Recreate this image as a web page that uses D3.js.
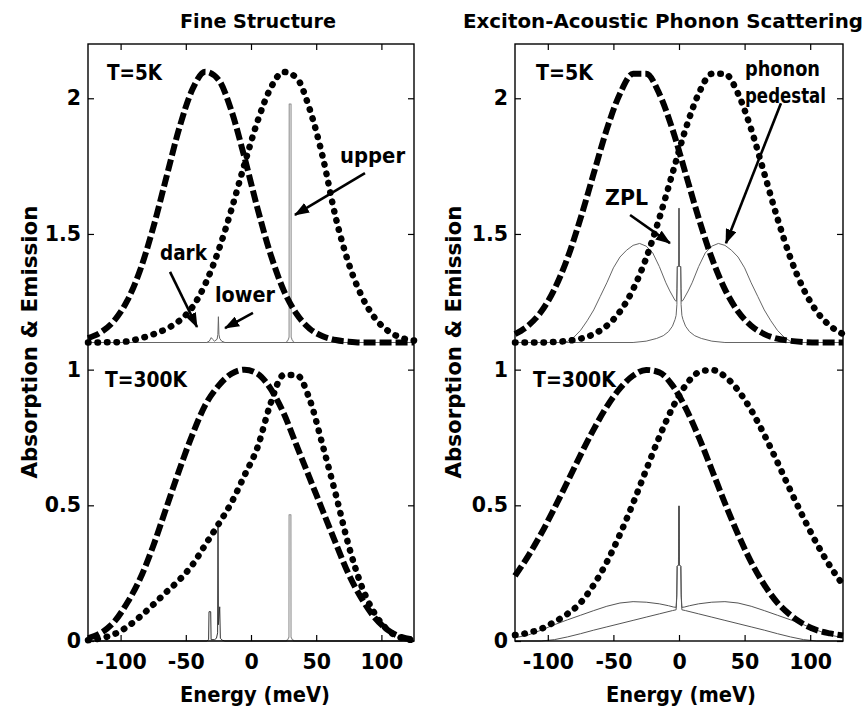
<!DOCTYPE html>
<html><head><meta charset="utf-8">
<script src="https://cdn.jsdelivr.net/npm/d3@7"></script>
<style>
body{margin:0;background:#fff}
svg text{font-family:"DejaVu Sans","Liberation Sans",Arial,sans-serif;font-weight:bold;fill:#000}
</style>
</head><body>
<svg id="chart" width="866" height="708"></svg>
<script>
// ---------- data ----------
const energy = [-125,-115,-105,-95,-85,-75,-65,-55,-45,-35,-25,-15,-5,5,15,25,35,45,55,65,75,85,95,105,115,125];
const xTicks = [-100,-50,0,50,100];
const xTickLabels = ["-100","-50","0","50","100"];
const yTicks = [0,0.5,1,1.5,2];
const yTickLabels = ["0","0.5","1","1.5","2"];
const lowTempOffset = 1.1;   // T=5K spectra are shifted up by this amount

// Fine structure, T=5K (normalised, shown at +1.1)
const fs5Dashed = [0.016,0.038,0.080,0.153,0.267,0.423,0.607,0.790,0.932,0.998,0.969,0.854,0.682,0.494,0.325,0.193,0.105,0.051,0.023,0.009,0.003,0,0,0,0,0];
const fs5Dotted = [0,0.0004,0.001,0.004,0.015,0.03,0.05,0.08,0.13,0.216,0.338,0.49,0.657,0.815,0.937,0.997,0.975,0.86,0.684,0.46,0.29,0.17,0.09,0.043,0.018,0.0075];
const fs5EmisX = [-125,-34,-32,-30.5,-29.5,-28,-26,-25.4,-25,-24.6,-24,-22.5,-20,125];
const fs5EmisY = [0,0,0.005,0.018,0.012,0.005,0.012,0.03,0.095,0.03,0.015,0.005,0,0];
const fs5AbsX = [-125,27,28.5,29.2,29.3,30.7,30.8,31.5,33,125];
const fs5AbsY = [0,0,0.01,0.02,0.879,0.879,0.02,0.01,0,0];

// Fine structure, T=300K
const fs300Dashed = [0.01,0.03,0.07,0.14,0.23,0.35,0.49,0.63,0.76,0.87,0.94,0.985,1.0,0.985,0.93,0.84,0.72,0.60,0.48,0.36,0.245,0.155,0.085,0.04,0.015,0.005];
const fs300Dotted = [0.003,0.01,0.025,0.052,0.09,0.134,0.18,0.225,0.28,0.355,0.43,0.51,0.61,0.714,0.875,0.98,0.98,0.89,0.72,0.54,0.35,0.20,0.10,0.04,0.012,0.003];
const fs300EmisX = [-125,-34,-32.5,-32.2,-30.9,-30.6,-28,-26.5,-25.6,-25.3,-25.0,-24.0,-23.5,-22,-20,125];
const fs300EmisY = [0,0,0.005,0.108,0.108,0.005,0.005,0.01,0.03,0.43,0.06,0.126,0.01,0.003,0,0];
const fs300AbsX = [-125,27,28.5,29.1,29.2,30.6,30.7,31.3,33,125];
const fs300AbsY = [0,0,0.008,0.015,0.465,0.465,0.015,0.008,0,0];

// Exciton-acoustic phonon scattering, T=5K (normalised, shown at +1.1)
const ph5Dashed = [0.031,0.062,0.114,0.196,0.311,0.458,0.623,0.786,0.917,0.990,0.990,0.917,0.786,0.623,0.458,0.311,0.196,0.114,0.062,0.031,0.014,0.006,0.002,0,0,0];
const ph5Dotted = [0,0,0,0.002,0.006,0.014,0.031,0.062,0.114,0.196,0.311,0.458,0.623,0.786,0.917,0.990,0.990,0.917,0.786,0.623,0.458,0.311,0.196,0.114,0.062,0.031];
const ph5EmisX = [-125,-90,-85,-80,-75,-70,-65,-60,-55,-50,-45,-40,-35,-30,-25,-20,-15,-10,-7,-3,-2,-1.6,-1.3,-0.4,-0.2,0.2,0.4,1.3,1.6,2.2,3,5,8,12,17,25,35,125];
const ph5EmisY = [0,0,0.004,0.02,0.045,0.08,0.12,0.17,0.22,0.275,0.315,0.34,0.358,0.365,0.355,0.33,0.28,0.22,0.19,0.155,0.152,0.2,0.28,0.28,0.494,0.494,0.28,0.28,0.14,0.1,0.085,0.06,0.04,0.025,0.015,0.005,0,0];
const ph5AbsX = [-125,-35,-25,-17,-12,-8,-5,-3,-2.2,-1.6,-1.3,-0.4,-0.2,0.2,0.4,1.3,1.6,2,3,7,10,15,20,25,30,35,40,45,50,55,60,65,70,75,80,85,90,125];
const ph5AbsY = [0,0,0.005,0.015,0.025,0.04,0.06,0.085,0.1,0.14,0.28,0.28,0.494,0.494,0.28,0.28,0.2,0.152,0.155,0.19,0.22,0.28,0.33,0.355,0.365,0.358,0.34,0.315,0.275,0.22,0.17,0.12,0.08,0.045,0.02,0.004,0,0];

// Exciton-acoustic phonon scattering, T=300K
const ph300Dashed = [0.24,0.313,0.396,0.489,0.587,0.686,0.78,0.864,0.931,0.978,0.999,0.99,0.942,0.859,0.752,0.631,0.508,0.393,0.291,0.207,0.141,0.095,0.062,0.04,0.028,0.02];
const ph300Dotted = [0.022,0.03,0.045,0.07,0.1,0.141,0.207,0.291,0.393,0.508,0.631,0.752,0.859,0.942,0.99,0.999,0.975,0.924,0.851,0.76,0.659,0.554,0.453,0.359,0.277,0.207];
const ph300EmisX = [-125,-115,-105,-95,-85,-75,-65,-55,-45,-35,-25,-15,-8,-4,-2.2,-1.7,-1.4,-0.4,-0.25,0.25,0.4,1.4,1.7,2.2,5,15,25,35,45,55,65,75,85,95,105,125];
const ph300EmisY = [0.012,0.022,0.04,0.06,0.078,0.095,0.112,0.128,0.14,0.145,0.143,0.137,0.13,0.125,0.124,0.17,0.275,0.28,0.497,0.497,0.28,0.275,0.16,0.115,0.112,0.1,0.088,0.076,0.064,0.052,0.04,0.027,0.015,0.005,0,0];
const ph300AbsX = [-125,-105,-95,-85,-75,-65,-55,-45,-35,-25,-15,-5,-2.2,-1.7,-1.4,-0.4,-0.25,0.25,0.4,1.4,1.7,2.2,4,8,15,25,35,45,55,65,75,85,95,105,115,125];
const ph300AbsY = [0,0,0.005,0.015,0.027,0.04,0.052,0.064,0.076,0.088,0.1,0.112,0.115,0.16,0.275,0.28,0.497,0.497,0.28,0.275,0.17,0.124,0.125,0.13,0.137,0.143,0.145,0.14,0.128,0.112,0.095,0.078,0.06,0.04,0.022,0.012];

// ---------- layout ----------
const svg = d3.select("#chart");
const plotTop = 44, plotBottom = 641;
const y = d3.scaleLinear().domain([0, 2.2]).range([plotBottom, plotTop]);

svg.append("defs").append("marker")
  .attr("id","head").attr("viewBox","0 0 15 11").attr("refX",14).attr("refY",5.5)
  .attr("markerWidth",15).attr("markerHeight",11).attr("markerUnits","userSpaceOnUse")
  .attr("orient","auto")
  .append("path").attr("d","M0,0 L15,5.5 L0,11 Z").attr("fill","#000");

function stretchText(sel, w){
  return sel.attr("textLength", w).attr("lengthAdjust","spacingAndGlyphs");
}

function panel(cfg){
  const x = d3.scaleLinear().domain([-125,125]).range([cfg.x0, cfg.x1]);
  const g = svg.append("g");
  const thick = d3.line().x((d,i)=>x(energy[i])).y(d=>y(d)).curve(d3.curveMonotoneX);
  const thin = (xs)=>d3.line().x((d,i)=>x(xs[i])).y(d=>y(d));

  cfg.thin.forEach(s=>{
    const vals = s.y.map(v=>v + (s.off||0));
    g.append("path").attr("d", thin(s.x)(vals))
      .attr("fill","none").attr("stroke",s.color).attr("stroke-width",s.w)
      .attr("stroke-linejoin","round");
  });
  cfg.thick.forEach(s=>{
    const vals = s.y.map(v=>v + (s.off||0));
    const p = g.append("path").attr("d", thick(vals)).attr("fill","none").attr("stroke","#000");
    if (s.type==="dash") p.attr("stroke-width",6).attr("stroke-dasharray","12,4");
    else p.attr("stroke-width",6.5).attr("stroke-dasharray","0.5,9").attr("stroke-linecap","round");
  });

  const ax = g.append("g").attr("transform",`translate(0,${plotBottom})`)
    .call(d3.axisBottom(x).tickValues(xTicks).tickSizeInner(-6).tickSizeOuter(0).tickPadding(13)
      .tickFormat((d,i)=>xTickLabels[i]));
  const at = g.append("g").attr("transform",`translate(0,${plotTop})`)
    .call(d3.axisTop(x).tickValues(xTicks).tickSizeInner(-6).tickSizeOuter(0).tickFormat(""));
  const al = g.append("g").attr("transform",`translate(${cfg.x0},0)`)
    .call(d3.axisLeft(y).tickValues(yTicks).tickSizeInner(-6).tickSizeOuter(0).tickPadding(7)
      .tickFormat((d,i)=>yTickLabels[i]));
  const ar = g.append("g").attr("transform",`translate(${cfg.x1},0)`)
    .call(d3.axisRight(y).tickValues(yTicks).tickSizeInner(-6).tickSizeOuter(0).tickFormat(""));
  [ax,at,al,ar].forEach(a=>{
    a.select(".domain").remove();
    a.selectAll("line").attr("stroke","#000").attr("stroke-width",1.2);
    a.selectAll("text").attr("font-size",20.5).attr("font-family",null).attr("fill","#000");
  });

  g.append("rect").attr("x",cfg.x0).attr("y",plotTop).attr("width",cfg.x1-cfg.x0).attr("height",plotBottom-plotTop)
    .attr("fill","none").attr("stroke","#000").attr("stroke-width",1.4);

  stretchText(svg.append("text").attr("x",(cfg.x0+cfg.x1)/2 + cfg.titleDx).attr("y",28).attr("text-anchor","middle")
    .attr("font-size",20).text(cfg.title), cfg.titleW);
  stretchText(svg.append("text").attr("x",(cfg.x0+cfg.x1)/2 + cfg.xlabDx).attr("y",702).attr("text-anchor","middle")
    .attr("font-size",21.5).text("Energy (meV)"), 150);
  stretchText(svg.append("text").attr("transform",`translate(${cfg.ylabX},342) rotate(-90)`).attr("text-anchor","middle")
    .attr("font-size",22).text("Absorption & Emission"), 273);

  cfg.labels.forEach(l=>{
    stretchText(svg.append("text").attr("x",x(l.e)).attr("y",y(l.v)).attr("font-size",l.fs||20.5).text(l.t), l.w);
  });
  cfg.arrows.forEach(a=>{
    svg.append("line").attr("x1",x(a[0])).attr("y1",y(a[1])).attr("x2",x(a[2])).attr("y2",y(a[3]))
      .attr("stroke","#000").attr("stroke-width",2.6).attr("marker-end","url(#head)");
  });
}

panel({
  x0:88, x1:414, title:"Fine Structure", titleW:156, titleDx:7, xlabDx:4, ylabX:37,
  thin:[
    {x:fs5AbsX, y:fs5AbsY, off:lowTempOffset, color:"#8f8f8f", w:1.1},
    {x:fs5EmisX, y:fs5EmisY, off:lowTempOffset, color:"#666", w:1},
    {x:fs300AbsX, y:fs300AbsY, color:"#8f8f8f", w:1.1},
    {x:fs300EmisX, y:fs300EmisY, color:"#333", w:1}
  ],
  thick:[
    {y:fs5Dashed, off:lowTempOffset, type:"dash"},
    {y:fs5Dotted, off:lowTempOffset, type:"dot"},
    {y:fs300Dashed, type:"dash"},
    {y:fs300Dotted, type:"dot"}
  ],
  labels:[
    {t:"T=5K", e:-110.4, v:2.067, w:55},
    {t:"T=300K", e:-112, v:0.937, w:82},
    {t:"upper", e:68.3, v:1.761, w:65, fs:21.5},
    {t:"dark", e:-69.8, v:1.404, w:47, fs:21.5},
    {t:"lower", e:-27.6, v:1.25, w:60, fs:21.5}
  ],
  arrows:[
    [87.4,1.724,33.7,1.570],
    [-62.1,1.36,-41.4,1.157],
    [1.5,1.209,-19.9,1.153]
  ]
});

panel({
  x0:515, x1:843, title:"Exciton-Acoustic Phonon Scattering", titleW:400, titleDx:-16, xlabDx:2, ylabX:461,
  thin:[
    {x:ph5AbsX, y:ph5AbsY, off:lowTempOffset, color:"#666", w:1},
    {x:ph5EmisX, y:ph5EmisY, off:lowTempOffset, color:"#666", w:1},
    {x:ph300AbsX, y:ph300AbsY, color:"#555", w:1},
    {x:ph300EmisX, y:ph300EmisY, color:"#555", w:1}
  ],
  thick:[
    {y:ph5Dashed, off:lowTempOffset, type:"dash"},
    {y:ph5Dotted, off:lowTempOffset, type:"dot"},
    {y:ph300Dashed, type:"dash"},
    {y:ph300Dotted, type:"dot"}
  ],
  labels:[
    {t:"T=5K", e:-109, v:2.067, w:57},
    {t:"T=300K", e:-111.3, v:0.937, w:83},
    {t:"phonon", e:50.3, v:2.082, w:75},
    {t:"pedestal", e:50.3, v:1.982, w:81},
    {t:"ZPL", e:-56.4, v:1.606, w:43, fs:21.5}
  ],
  arrows:[
    [77.7,1.982,35.8,1.466],
    [-37.3,1.57,-6.9,1.466]
  ]
});
</script>
</body></html>
